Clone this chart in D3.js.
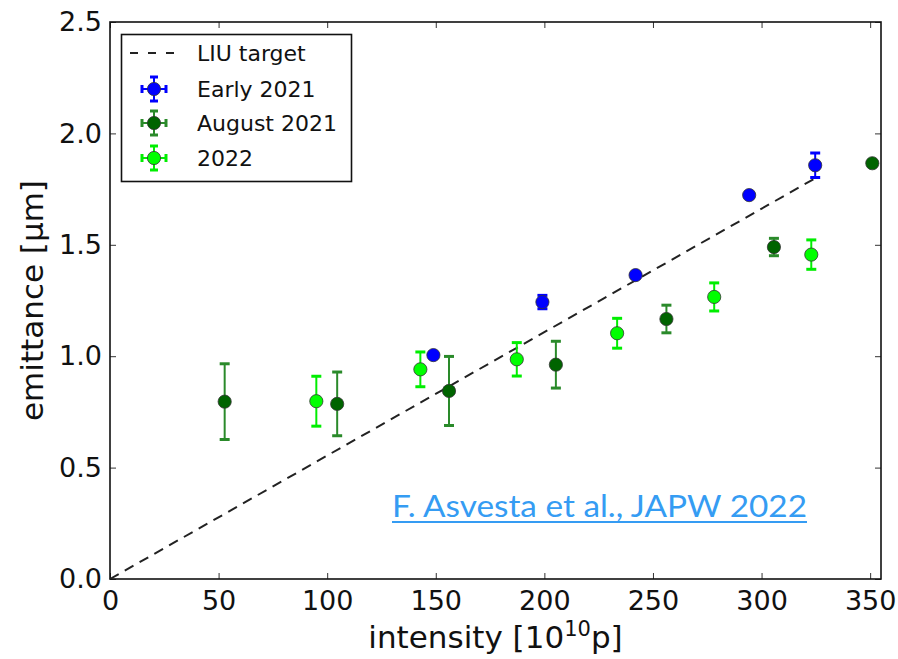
<!DOCTYPE html>
<html>
<head>
<meta charset="utf-8">
<script src="https://cdn.jsdelivr.net/npm/d3@7"></script>
<style>
  body { margin: 0; background: #fff; }
  svg { display: block; font-family: "DejaVu Sans", sans-serif; }
</style>
</head>
<body>
<div id="chart"></div>
<script>
// values
const seriesNames = ["LIU target", "Early 2021", "August 2021", "2022"];

const targetX = [0, 324];
const targetY = [0, 1.795];

const earlyX = [148.9, 199.1, 242.0, 294.3, 324.7];
const earlyY = [1.005, 1.243, 1.364, 1.723, 1.857];
const earlyErr = [0.01, 0.03, 0.012, 0.01, 0.055];

const augX = [52.8, 104.6, 156.1, 205.3, 256.2, 305.7, 351.0];
const augY = [0.796, 0.786, 0.844, 0.962, 1.167, 1.490, 1.866];
const augErr = [0.17, 0.143, 0.155, 0.105, 0.062, 0.039, 0.0];

const y22X = [95.0, 142.9, 187.3, 233.5, 278.2, 322.9];
const y22Y = [0.798, 0.941, 0.986, 1.103, 1.266, 1.456];
const y22Err = [0.112, 0.078, 0.075, 0.067, 0.063, 0.066];

const xTicks = [0, 50, 100, 150, 200, 250, 300, 350];
const yTicks = [0.0, 0.5, 1.0, 1.5, 2.0, 2.5];

const W = 898, H = 659;
const margin = { top: 22, right: 17, bottom: 80, left: 110 };
const width = W - margin.left - margin.right;
const height = H - margin.top - margin.bottom;

const svg = d3.select("#chart").append("svg")
  .attr("width", W)
  .attr("height", H);

const g = svg.append("g")
  .attr("transform", "translate(" + margin.left + "," + margin.top + ")");

const x = d3.scaleLinear().domain([0, 355]).range([0, width]);
const y = d3.scaleLinear().domain([0, 2.5]).range([height, 0]);

// axes: inward ticks on all four sides
const fmtY = d3.format(".1f");
const axBottom = g.append("g")
  .attr("transform", "translate(0," + height + ")")
  .call(d3.axisBottom(x).tickValues(xTicks).tickSizeInner(-6).tickSizeOuter(0).tickPadding(12));
const axLeft = g.append("g")
  .call(d3.axisLeft(y).tickValues(yTicks).tickFormat(fmtY).tickSizeInner(-6).tickSizeOuter(0).tickPadding(8));
const axTop = g.append("g")
  .call(d3.axisTop(x).tickValues(xTicks).tickFormat("").tickSizeInner(-6).tickSizeOuter(0));
const axRight = g.append("g")
  .attr("transform", "translate(" + width + ",0)")
  .call(d3.axisRight(y).tickValues(yTicks).tickFormat("").tickSizeInner(-6).tickSizeOuter(0));

[axBottom, axLeft, axTop, axRight].forEach(a => {
  a.select(".domain").remove();
  a.selectAll(".tick line").attr("stroke", "#333").attr("stroke-width", 1);
  a.selectAll(".tick text")
    .attr("font-family", "DejaVu Sans")
    .attr("font-size", 27)
    .attr("fill", "#111");
});

g.append("rect")
  .attr("x", 0).attr("y", 0)
  .attr("width", width).attr("height", height)
  .attr("fill", "none")
  .attr("stroke", "#111")
  .attr("stroke-width", 1.6);

// LIU target dashed line
const line = d3.line().x(d => x(d[0])).y(d => y(d[1]));
g.append("path")
  .datum(d3.zip(targetX, targetY))
  .attr("d", line)
  .attr("fill", "none")
  .attr("stroke", "#222")
  .attr("stroke-width", 2)
  .attr("stroke-dasharray", "10,7");

// error bar series
const series = [
  { xs: earlyX, ys: earlyY, errs: earlyErr, fill: "#0000ff", bar: "#0000ff" },
  { xs: augX, ys: augY, errs: augErr, fill: "#006400", bar: "#2a8a2a" },
  { xs: y22X, ys: y22Y, errs: y22Err, fill: "#00ff00", bar: "#00ee00" }
];

series.forEach(s => {
  const pts = s.xs.map((v, i) => ({ x: v, y: s.ys[i], e: s.errs[i] }));
  const grp = g.append("g");
  const eb = grp.selectAll(".eb").data(pts.filter(d => d.e > 0)).join("g");
  eb.append("line")
    .attr("x1", d => x(d.x)).attr("x2", d => x(d.x))
    .attr("y1", d => y(d.y - d.e)).attr("y2", d => y(d.y + d.e))
    .attr("stroke", s.bar).attr("stroke-width", 2);
  eb.append("line")
    .attr("x1", d => x(d.x) - 5).attr("x2", d => x(d.x) + 5)
    .attr("y1", d => y(d.y + d.e)).attr("y2", d => y(d.y + d.e))
    .attr("stroke", s.bar).attr("stroke-width", 3);
  eb.append("line")
    .attr("x1", d => x(d.x) - 5).attr("x2", d => x(d.x) + 5)
    .attr("y1", d => y(d.y - d.e)).attr("y2", d => y(d.y - d.e))
    .attr("stroke", s.bar).attr("stroke-width", 3);
  grp.selectAll("circle").data(pts).join("circle")
    .attr("cx", d => x(d.x))
    .attr("cy", d => y(d.y))
    .attr("r", 6.6)
    .attr("fill", s.fill)
    .attr("stroke", "#333")
    .attr("stroke-width", 0.8);
});

// legend
const lg = svg.append("g");
lg.append("rect")
  .attr("x", 121.5).attr("y", 34.5)
  .attr("width", 230).attr("height", 147)
  .attr("fill", "#fff")
  .attr("stroke", "#111")
  .attr("stroke-width", 1.6);
const rowY = [53, 89, 123, 158];
lg.append("line")
  .attr("x1", 130).attr("x2", 178)
  .attr("y1", rowY[0]).attr("y2", rowY[0])
  .attr("stroke", "#222").attr("stroke-width", 2)
  .attr("stroke-dasharray", "8,10");
series.forEach((s, i) => {
  const cy = rowY[i + 1], cx = 154;
  const m = lg.append("g");
  m.append("line").attr("x1", cx - 12).attr("x2", cx + 12).attr("y1", cy).attr("y2", cy)
    .attr("stroke", s.bar).attr("stroke-width", 2);
  m.append("line").attr("x1", cx).attr("x2", cx).attr("y1", cy - 12).attr("y2", cy + 12)
    .attr("stroke", s.bar).attr("stroke-width", 2);
  [-12, 12].forEach(o => {
    m.append("line").attr("x1", cx - 4).attr("x2", cx + 4).attr("y1", cy + o).attr("y2", cy + o)
      .attr("stroke", s.bar).attr("stroke-width", 3);
    m.append("line").attr("x1", cx + o).attr("x2", cx + o).attr("y1", cy - 4).attr("y2", cy + 4)
      .attr("stroke", s.bar).attr("stroke-width", 3);
  });
  m.append("circle").attr("cx", cx).attr("cy", cy).attr("r", 6.6)
    .attr("fill", s.fill).attr("stroke", "#333").attr("stroke-width", 0.8);
});
lg.selectAll("text.lab").data(seriesNames).join("text")
  .attr("class", "lab")
  .attr("x", 197)
  .attr("y", (d, i) => rowY[i])
  .attr("dy", "0.36em")
  .attr("font-size", 22)
  .attr("fill", "#111")
  .text(d => d);

// axis labels
svg.append("text")
  .attr("x", margin.left + width / 2)
  .attr("y", 648)
  .attr("text-anchor", "middle")
  .attr("font-size", 31)
  .attr("fill", "#111")
  .call(t => {
    t.append("tspan").text("intensity [10");
    t.append("tspan").attr("font-size", 21).attr("dy", -12).text("10");
    t.append("tspan").attr("dy", 12).text("p]");
  });

svg.append("text")
  .attr("transform", "translate(43," + (margin.top + height / 2) + ") rotate(-90)")
  .attr("text-anchor", "middle")
  .attr("font-size", 31)
  .attr("fill", "#111")
  .text("emittance [µm]");

// citation
svg.append("text")
  .attr("x", 392)
  .attr("y", 517)
  .attr("font-family", "Lato, 'Open Sans', sans-serif")
  .attr("font-size", 30)
  .attr("fill", "#359cf3")
  .attr("textLength", 415)
  .attr("lengthAdjust", "spacingAndGlyphs")
  .text("F. Asvesta et al., JAPW 2022");
svg.append("line")
  .attr("x1", 392).attr("x2", 807)
  .attr("y1", 522).attr("y2", 522)
  .attr("stroke", "#359cf3").attr("stroke-width", 2);
</script>
</body>
</html>
